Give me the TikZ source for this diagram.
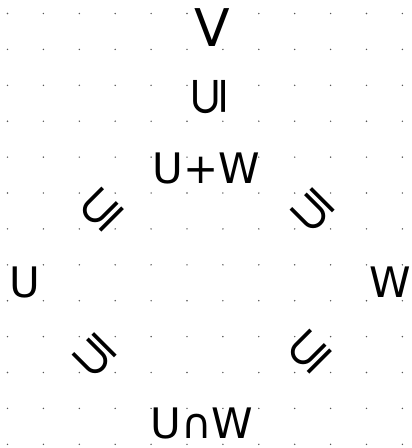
\documentclass[tikz,border=0pt]{standalone}
\usepackage{fontspec}
\setmainfont{DejaVu Sans}
\usepackage{xcolor}
\definecolor{gridDot}{HTML}{555555}
\tikzset{
  space/.style={font=\fontsize{42}{46}\selectfont, inner sep=0pt},
  incl/.style={font=\fontsize{52}{56}\selectfont, inner sep=0pt},
}

\begin{document}
\begin{tikzpicture}[x=1pt, y=-1pt]
  \filldraw[fill=white, draw=none] (0,0) rectangle (412,448);
  \foreach \i in {0,...,11}
    \foreach \j in {0,...,12}
      \fill[gridDot] (7.5+35.9*\i, 13.5+35.9*\j) circle (0.8pt);
  \node[space, font=\fontsize{52}{56}\selectfont] (V) at (212,28) {V};
  \node[incl, rotate=90] (s1) at (210,97) {⊆};
  \node[space] (UW) at (206,168) {U+W};
  \node[incl, rotate=45] (s2) at (102,210) {⊆};
  \node[incl, rotate=135] (s3) at (313,210) {⊆};
  \node[space] (U) at (25,282) {U};
  \node[space] (W) at (390,282) {W};
  \node[incl, rotate=135] (s4) at (95,355) {⊆};
  \node[incl, rotate=45] (s5) at (310,352) {⊆};
  \node[space] (UcapW) at (202,423) {U∩W};
\end{tikzpicture}
\end{document}
